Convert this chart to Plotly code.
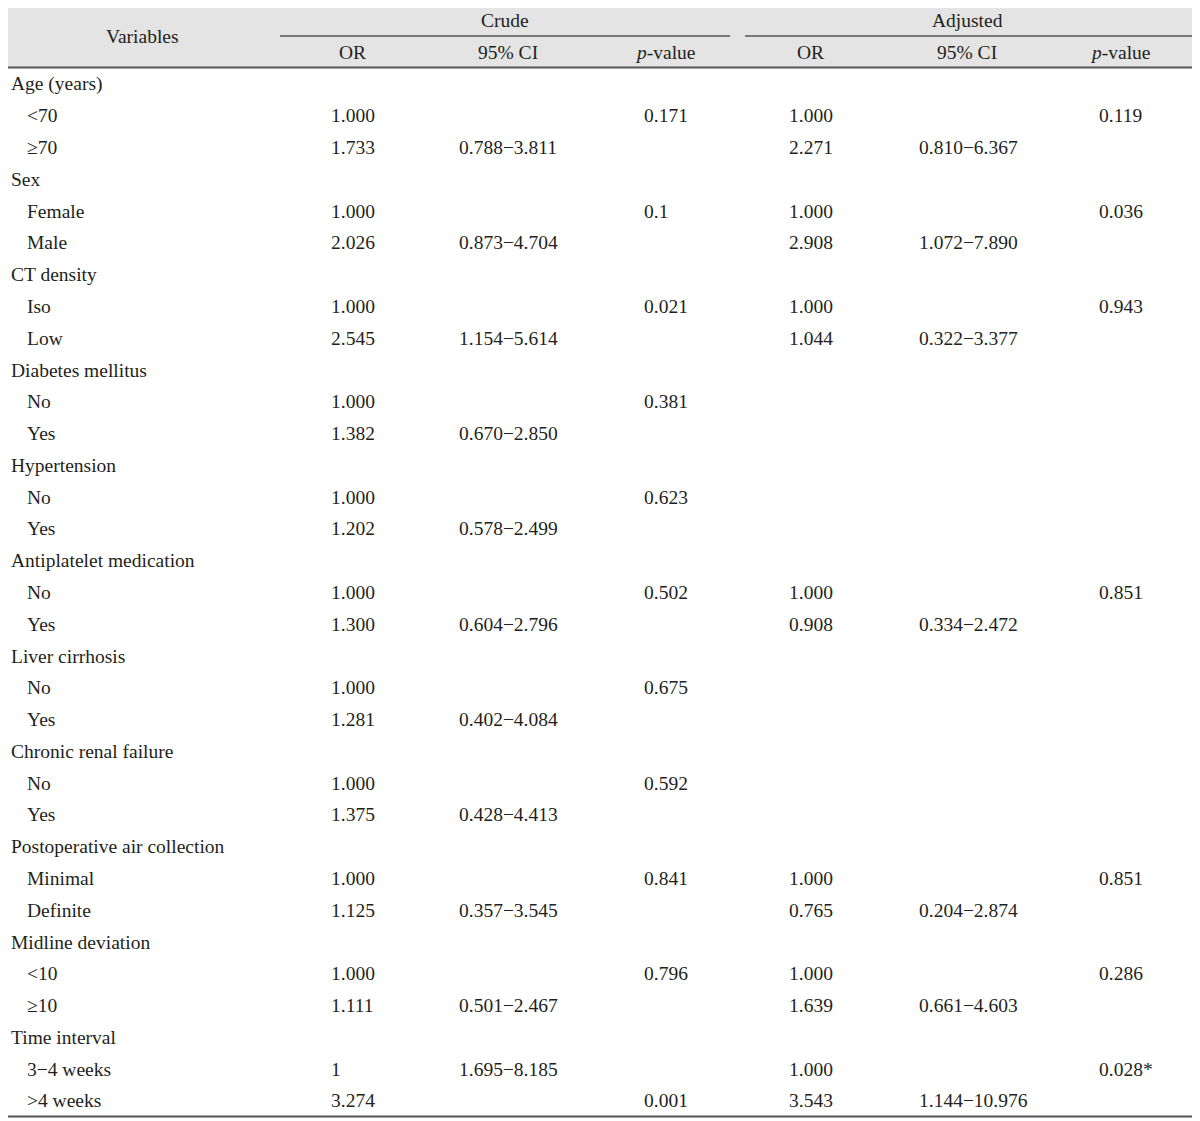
import plotly.graph_objects as go

# ---- data ----
groups = ["Crude", "Adjusted"]
sub_headers = ["OR", "95% CI", "<i>p</i>-value"]

variables = [
    "Age (years)", "<70", "≥70",
    "Sex", "Female", "Male",
    "CT density", "Iso", "Low",
    "Diabetes mellitus", "No", "Yes",
    "Hypertension", "No", "Yes",
    "Antiplatelet medication", "No", "Yes",
    "Liver cirrhosis", "No", "Yes",
    "Chronic renal failure", "No", "Yes",
    "Postoperative air collection", "Minimal", "Definite",
    "Midline deviation", "<10", "≥10",
    "Time interval", "3−4 weeks", ">4 weeks",
]
headings = ("Age (years)", "Sex", "CT density", "Diabetes mellitus", "Hypertension",
            "Antiplatelet medication", "Liver cirrhosis", "Chronic renal failure",
            "Postoperative air collection", "Midline deviation", "Time interval")
is_sub = [v not in headings for v in variables]

crude_or = ["", "1.000", "1.733", "", "1.000", "2.026", "", "1.000", "2.545",
            "", "1.000", "1.382", "", "1.000", "1.202", "", "1.000", "1.300",
            "", "1.000", "1.281", "", "1.000", "1.375", "", "1.000", "1.125",
            "", "1.000", "1.111", "", "1", "3.274"]
crude_ci = ["", "", "0.788−3.811", "", "", "0.873−4.704", "", "", "1.154−5.614",
            "", "", "0.670−2.850", "", "", "0.578−2.499", "", "", "0.604−2.796",
            "", "", "0.402−4.084", "", "", "0.428−4.413", "", "", "0.357−3.545",
            "", "", "0.501−2.467", "", "1.695−8.185", ""]
crude_p = ["", "0.171", "", "", "0.1", "", "", "0.021", "",
           "", "0.381", "", "", "0.623", "", "", "0.502", "",
           "", "0.675", "", "", "0.592", "", "", "0.841", "",
           "", "0.796", "", "", "", "0.001"]
adj_or = ["", "1.000", "2.271", "", "1.000", "2.908", "", "1.000", "1.044",
          "", "", "", "", "", "", "", "1.000", "0.908",
          "", "", "", "", "", "", "", "1.000", "0.765",
          "", "1.000", "1.639", "", "1.000", "3.543"]
adj_ci = ["", "", "0.810−6.367", "", "", "1.072−7.890", "", "", "0.322−3.377",
          "", "", "", "", "", "", "", "", "0.334−2.472",
          "", "", "", "", "", "", "", "", "0.204−2.874",
          "", "", "0.661−4.603", "", "", "1.144−10.976"]
adj_p = ["", "0.119", "", "", "0.036", "", "", "0.943", "",
         "", "", "", "", "", "", "", "0.851", "",
         "", "", "", "", "", "", "", "0.851", "",
         "", "0.286", "", "", "0.028*", ""]

# ---- layout constants ----
W, H = 1200, 1121
OFF = 8  # page body margin
FONT = "Liberation Serif"
FS = 19.5
TXT = "#231f20"
LINE = "#555555"
row0, row_h = 84, 31.78
var_x, sub_x = OFF + 0.5, 25
col_left = [329, 457, 642, 787, 917, 1097]
col_center = [352, 508, 665, 810, 967, 1120]
group_center = [505, 967]
group_span = [(280, 730), (745, 1200)]
hdr_top, hdr_bot, hdr_mid = 4, 67.5, 36

fig = go.Figure()
fig.add_trace(go.Scatter(x=[OFF, W], y=[OFF, H], mode="markers",
                         marker=dict(opacity=0), hoverinfo="skip", showlegend=False))

fig.add_shape(type="rect", x0=0, x1=W, y0=hdr_top, y1=hdr_bot,
              fillcolor="#e4e4e4", line=dict(width=0), layer="below")
for y in (hdr_top, hdr_bot):
    fig.add_shape(type="line", x0=0, x1=W, y0=y, y1=y, line=dict(color=LINE, width=2))
last_y = row0 + (len(variables) - 1) * row_h
fig.add_shape(type="line", x0=0, x1=W, y0=last_y + 15.5, y1=last_y + 15.5,
              line=dict(color=LINE, width=2))
for (a, b) in group_span:
    fig.add_shape(type="line", x0=a, x1=b, y0=hdr_mid, y1=hdr_mid,
                  line=dict(color=LINE, width=1.5))

ann = []
def add(x, y, t, anchor="left"):
    ann.append(dict(x=x, y=y, text=t, showarrow=False, xanchor=anchor, yanchor="middle",
                    font=dict(family=FONT, size=FS, color=TXT)))

add(142, hdr_mid, "Variables", "center")
for g, c in zip(groups, group_center):
    add(c, 20, g, "center")
for i, c in enumerate(col_center):
    add(c, 52, sub_headers[i % 3], "center")

cols = [crude_or, crude_ci, crude_p, adj_or, adj_ci, adj_p]
for r, v in enumerate(variables):
    y = row0 + r * row_h
    add(sub_x if is_sub[r] else var_x, y, v)
    for ci, col in enumerate(cols):
        if col[r]:
            add(col_left[ci], y, col[r])

fig.update_layout(width=W - OFF, height=H - OFF, margin=dict(l=0, r=0, t=0, b=0),
                  paper_bgcolor="white", plot_bgcolor="white",
                  annotations=ann,
                  xaxis=dict(range=[OFF, W], visible=False, fixedrange=True),
                  yaxis=dict(range=[H, OFF], visible=False, fixedrange=True))
fig.write_html("out.html")
